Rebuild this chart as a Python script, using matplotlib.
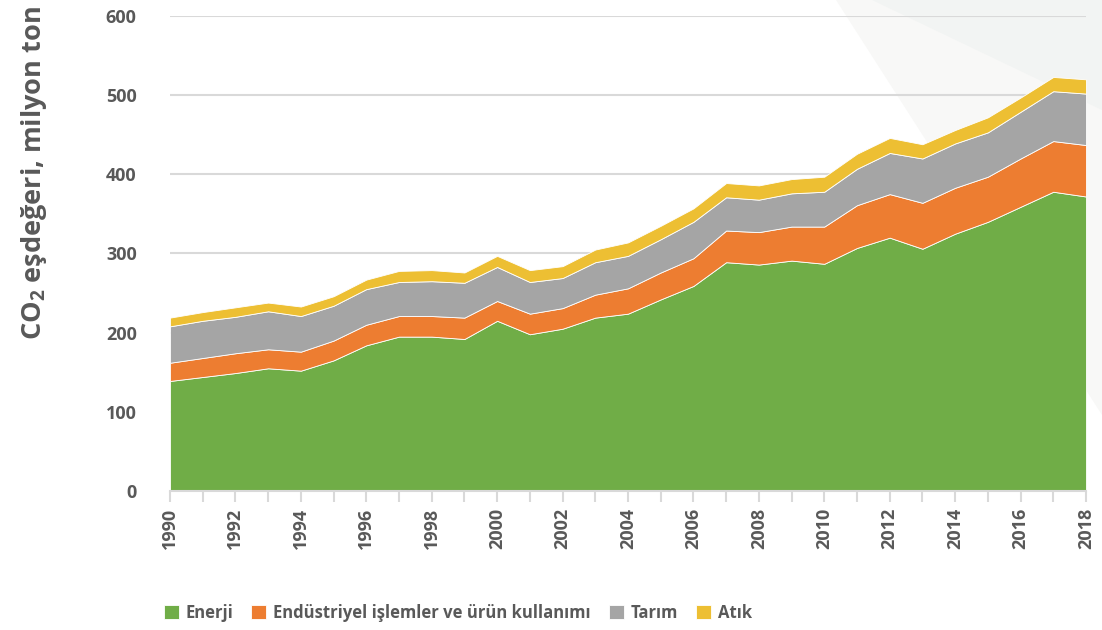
import numpy as np
import matplotlib.pyplot as plt
from matplotlib import font_manager
from matplotlib.patches import Polygon

# pick a condensed bold face if one is installed (the reference uses a condensed font)
cond = [f for f in font_manager.fontManager.ttflist
        if f.stretch in ("condensed", "semi-condensed", "extra-condensed")
        or "Narrow" in f.name or "Condensed" in f.name]
pref = ["Liberation Sans Narrow", "Noto Sans", "Roboto", "Open Sans", "Lato", "Inter"]
cond.sort(key=lambda f: (pref.index(f.name) if f.name in pref else 99))
if cond:
    fam, stretch = cond[0].name, cond[0].stretch
    scale = 1.0
else:
    fam, stretch = "Liberation Sans", "normal"
    scale = 0.88

plt.rcParams.update({
    "font.family": [fam, "DejaVu Sans"],
    "font.stretch": stretch,
    "font.weight": "bold",
    "mathtext.fontset": "custom",
    "mathtext.rm": fam + ":bold",
    "mathtext.it": fam + ":bold",
    "mathtext.bf": fam + ":bold",
})

years = list(range(1990, 2019))
enerji = [139, 144, 149, 155, 152, 165, 184, 195, 195, 192, 215, 198, 205, 219, 224,
          242, 259, 289, 286, 291, 287, 307, 320, 306, 325, 340, 359, 378, 372]
endustri = [23, 24, 25, 24, 24, 25, 26, 26, 26, 27, 25, 26, 26, 29, 32,
            34, 35, 40, 41, 43, 47, 54, 55, 58, 58, 57, 61, 64, 65]
tarim = [46, 47, 46, 48, 45, 44, 45, 43, 44, 44, 43, 40, 38, 41, 41,
         42, 46, 42, 41, 42, 44, 46, 52, 56, 56, 56, 59, 63, 65]
atik = [11, 11, 12, 11, 12, 12, 12, 14, 14, 13, 14, 15, 15, 16, 17,
        17, 17, 18, 18, 18, 19, 19, 19, 18, 17, 19, 18, 18, 18]
labels = ["Enerji", "Endüstriyel işlemler ve ürün kullanımı", "Tarım", "Atık"]
colors = ["#70AD47", "#ED7D31", "#A5A5A5", "#EDBF33"]

W, H = 1102, 630
fig = plt.figure(figsize=(W / 100, H / 100), dpi=100)

# faint background triangles (figure pixel coords)
def px(pts):
    return [(x / W, 1 - y / H) for x, y in pts]
fig.patches.append(Polygon(px([(836, 0), (1102, 0), (1102, 415)]),
                           closed=True, transform=fig.transFigure, fc="#F8F8F7", ec="none", zorder=-2))
fig.patches.append(Polygon(px([(872, 0), (1102, 0), (1102, 110)]),
                           closed=True, transform=fig.transFigure, fc="#F2F4F3", ec="none", zorder=-1))

ax = fig.add_axes([170 / W, 1 - 491 / H, (1086 - 170) / W, (491 - 16) / H])
ax.patch.set_alpha(0)

ax.stackplot(years, enerji, endustri, tarim, atik, labels=labels, colors=colors,
             edgecolor="white", linewidth=0.6, zorder=3)

ax.set_xlim(1990, 2018)
ax.set_ylim(0, 600)
ax.set_yticks(range(0, 601, 100))
ax.set_xticks(years)
ax.set_xticklabels([str(y) if y % 2 == 0 else "" for y in years], rotation=90)
ax.grid(axis="y", color="#D9D9D9", linewidth=1.5, zorder=1)
for s in ["top", "right", "left"]:
    ax.spines[s].set_visible(False)
ax.spines["bottom"].set_color("#D9D9D9")
ax.spines["bottom"].set_linewidth(1.5)
ax.spines["bottom"].set_zorder(4)
ax.tick_params(axis="x", colors="#D9D9D9", length=8, width=1.5, labelcolor="#595959",
               labelsize=13 * scale, pad=4)
ax.tick_params(axis="y", length=0, labelcolor="#595959", labelsize=13 * scale, pad=24)

fig.text(34 / W, 1 - 173 / H, "CO$_2$ eşdeğeri, milyon ton", rotation=90,
         ha="center", va="center", fontsize=19.5 * scale, color="#595959")

handles, labs = ax.get_legend_handles_labels()
leg = fig.legend(handles, labs, loc="center", bbox_to_anchor=(458 / W, 1 - 613 / H), ncol=4,
                 frameon=False, fontsize=12 * scale, handlelength=0.9, handleheight=0.9,
                 handletextpad=0.4, columnspacing=1.1, labelcolor="#595959")

fig.savefig("out.png", dpi=100)
